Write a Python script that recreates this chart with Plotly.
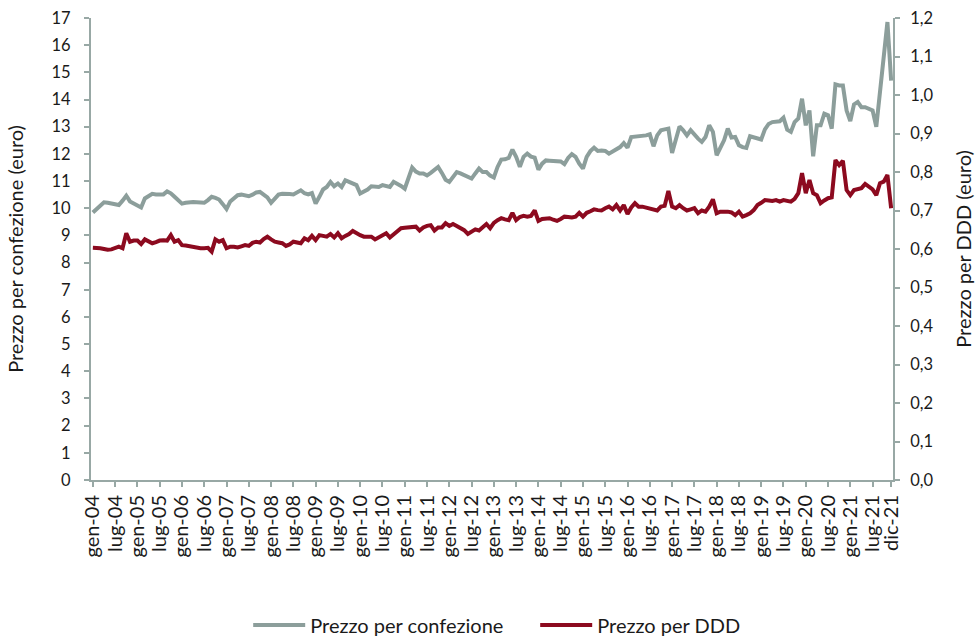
import plotly.graph_objects as go

mesi = ["gen", "feb", "mar", "apr", "mag", "giu", "lug", "ago", "set", "ott", "nov", "dic"]
anni = list(range(4, 22))
categorie = [f"{m}-{a:02d}" for a in anni for m in mesi]

prezzo_confezione = [
    9.84, 9.97, 10.10, 10.22, 10.20, 10.18, 10.16, 10.12, 10.28, 10.46, 10.25, 10.18,
    10.10, 10.03, 10.36, 10.45, 10.53, 10.51, 10.50, 10.51, 10.62, 10.55, 10.42, 10.30,
    10.17, 10.20, 10.22, 10.23, 10.22, 10.21, 10.20, 10.30, 10.42, 10.38, 10.32, 10.15,
    9.97, 10.25, 10.36, 10.48, 10.50, 10.48, 10.44, 10.50, 10.58, 10.60, 10.50, 10.40,
    10.20, 10.38, 10.50, 10.53, 10.54, 10.52, 10.51, 10.58, 10.66, 10.55, 10.51, 10.56,
    10.17, 10.42, 10.69, 10.78, 10.97, 10.81, 10.91, 10.78, 11.03, 10.97, 10.91, 10.85,
    10.54, 10.60, 10.69, 10.81, 10.78, 10.78, 10.85, 10.80, 10.78, 10.97, 10.91, 10.82,
    10.72, 11.09, 11.50, 11.35, 11.28, 11.28, 11.21, 11.30, 11.40, 11.52, 11.30, 11.05,
    10.97, 11.15, 11.33, 11.28, 11.21, 11.15, 11.09, 11.28, 11.46, 11.33, 11.33, 11.20,
    11.13, 11.52, 11.79, 11.80, 11.85, 12.16, 11.89, 11.52, 11.89, 12.01, 11.90, 11.86,
    11.42, 11.64, 11.76, 11.75, 11.74, 11.76, 11.72, 11.62, 11.85, 11.99, 11.89, 11.64,
    11.46, 11.89, 12.10, 12.23, 12.11, 12.12, 12.11, 12.01, 12.10, 12.19, 12.25, 12.40,
    12.23, 12.62, 12.63, 12.64, 12.65, 12.68, 12.72, 12.28, 12.68, 12.87, 12.90, 12.93,
    12.03, 12.56, 13.01, 12.87, 12.68, 12.87, 12.70, 12.56, 12.44, 12.62, 13.05, 12.81,
    11.95, 12.20, 12.50, 12.93, 12.60, 12.62, 12.32, 12.25, 12.22, 12.65, 12.62, 12.58,
    12.53, 12.90, 13.10, 13.17, 13.19, 13.20, 13.33, 12.89, 12.81, 13.17, 13.30, 14.03,
    13.05, 13.60, 11.91, 13.05, 13.05, 13.48, 13.42, 12.93, 14.56, 14.52, 14.52, 13.60,
    13.21, 13.82, 13.91, 13.72, 13.72, 13.65, 13.60, 13.00, 14.30, 15.60, 16.85, 14.70,
]

prezzo_ddd = [
    0.603, 0.603, 0.602, 0.600, 0.598, 0.599, 0.602, 0.606, 0.602, 0.641, 0.619, 0.622,
    0.622, 0.613, 0.625, 0.620, 0.615, 0.618, 0.622, 0.623, 0.622, 0.636, 0.619, 0.623,
    0.610, 0.609, 0.607, 0.606, 0.604, 0.602, 0.602, 0.603, 0.593, 0.625, 0.619, 0.623,
    0.602, 0.606, 0.606, 0.604, 0.607, 0.610, 0.608, 0.616, 0.619, 0.617, 0.626, 0.632,
    0.625, 0.619, 0.617, 0.615, 0.608, 0.612, 0.619, 0.617, 0.615, 0.628, 0.623, 0.634,
    0.623, 0.636, 0.633, 0.632, 0.639, 0.630, 0.641, 0.628, 0.634, 0.639, 0.647, 0.640,
    0.636, 0.632, 0.633, 0.632, 0.625, 0.630, 0.636, 0.641, 0.630, 0.638, 0.645, 0.654,
    0.655, 0.656, 0.657, 0.658, 0.648, 0.656, 0.660, 0.662, 0.648, 0.656, 0.656, 0.667,
    0.660, 0.665, 0.660, 0.654, 0.649, 0.639, 0.645, 0.651, 0.648, 0.658, 0.665, 0.654,
    0.668, 0.675, 0.680, 0.677, 0.675, 0.694, 0.675, 0.683, 0.686, 0.684, 0.686, 0.700,
    0.673, 0.678, 0.680, 0.680, 0.676, 0.673, 0.678, 0.684, 0.683, 0.682, 0.684, 0.694,
    0.684, 0.694, 0.698, 0.703, 0.701, 0.700, 0.706, 0.710, 0.703, 0.714, 0.700, 0.714,
    0.691, 0.708, 0.719, 0.710, 0.710, 0.708, 0.706, 0.703, 0.700, 0.710, 0.712, 0.751,
    0.710, 0.706, 0.714, 0.706, 0.700, 0.703, 0.706, 0.693, 0.700, 0.697, 0.710, 0.729,
    0.693, 0.697, 0.698, 0.697, 0.695, 0.688, 0.697, 0.684, 0.688, 0.693, 0.701, 0.714,
    0.720, 0.727, 0.726, 0.725, 0.727, 0.723, 0.727, 0.725, 0.723, 0.730, 0.745, 0.797,
    0.745, 0.779, 0.745, 0.740, 0.719, 0.726, 0.732, 0.734, 0.831, 0.818, 0.829, 0.753,
    0.740, 0.753, 0.755, 0.758, 0.769, 0.762, 0.755, 0.740, 0.771, 0.775, 0.792, 0.706,
]

etichette_x = [c for i, c in enumerate(categorie) if i % 6 == 0] + ["dic-21"]

GRIGIO = "#8C9E9B"
ROSSO = "#8C0A1F"
ASSE = "#98A8A5"
FONT = "Lato"

fig = go.Figure()
fig.add_trace(go.Scatter(x=categorie, y=prezzo_confezione, mode="lines",
                         name="Prezzo per confezione",
                         line=dict(color=GRIGIO, width=4)))
fig.add_trace(go.Scatter(x=categorie, y=prezzo_ddd, mode="lines",
                         name="Prezzo per DDD", yaxis="y2",
                         line=dict(color=ROSSO, width=4)))

fig.update_layout(
    width=979, height=636,
    margin=dict(l=91, r=86, t=18, b=156, autoexpand=False),
    paper_bgcolor="white", plot_bgcolor="white",
    separators=",.",
    font=dict(family=FONT, size=17, color="#1a1a1a"),
    showlegend=True,
    legend=dict(orientation="h", x=0.196, xanchor="left", y=-0.314, yanchor="middle",
                font=dict(family=FONT, size=20), itemwidth=52,
                entrywidth=220, entrywidthmode="pixels", tracegroupgap=0),
    xaxis=dict(type="category", categoryorder="array", categoryarray=categorie,
               range=[-0.5, 215.5], tickmode="array", tickvals=etichette_x,
               ticktext=etichette_x, tickangle=-90, ticks="outside", ticklen=5,
               tickcolor=ASSE, tickwidth=1.5, showline=True, linecolor=ASSE, linewidth=2,
               showgrid=False, zeroline=False, automargin=False,
               tickfont=dict(family=FONT, size=20)),
    yaxis=dict(range=[0, 17], dtick=1, tick0=0, ticks="outside", ticklen=5,
               tickcolor=ASSE, tickwidth=1.5, showline=True, linecolor=ASSE, linewidth=2,
               showgrid=False, zeroline=False, ticklabelstandoff=10, automargin=False,
               tickfont=dict(family=FONT, size=16.5),
               title=dict(text="Prezzo per confezione (euro)", standoff=23,
                          font=dict(family=FONT, size=20))),
    yaxis2=dict(range=[0, 1.2], dtick=0.1, tick0=0, tickformat=".1f", overlaying="y",
                side="right", ticks="outside", ticklen=5, tickcolor=ASSE, tickwidth=1.5,
                showline=True, linecolor=ASSE, linewidth=2, showgrid=False,
                zeroline=False, ticklabelstandoff=7, automargin=False,
                tickfont=dict(family=FONT, size=16.5),
                title=dict(text="Prezzo per DDD (euro)", standoff=24,
                           font=dict(family=FONT, size=20))),
)

fig.write_html("out.html", config={"displayModeBar": False},
               post_script="document.body.style.margin='0';")
